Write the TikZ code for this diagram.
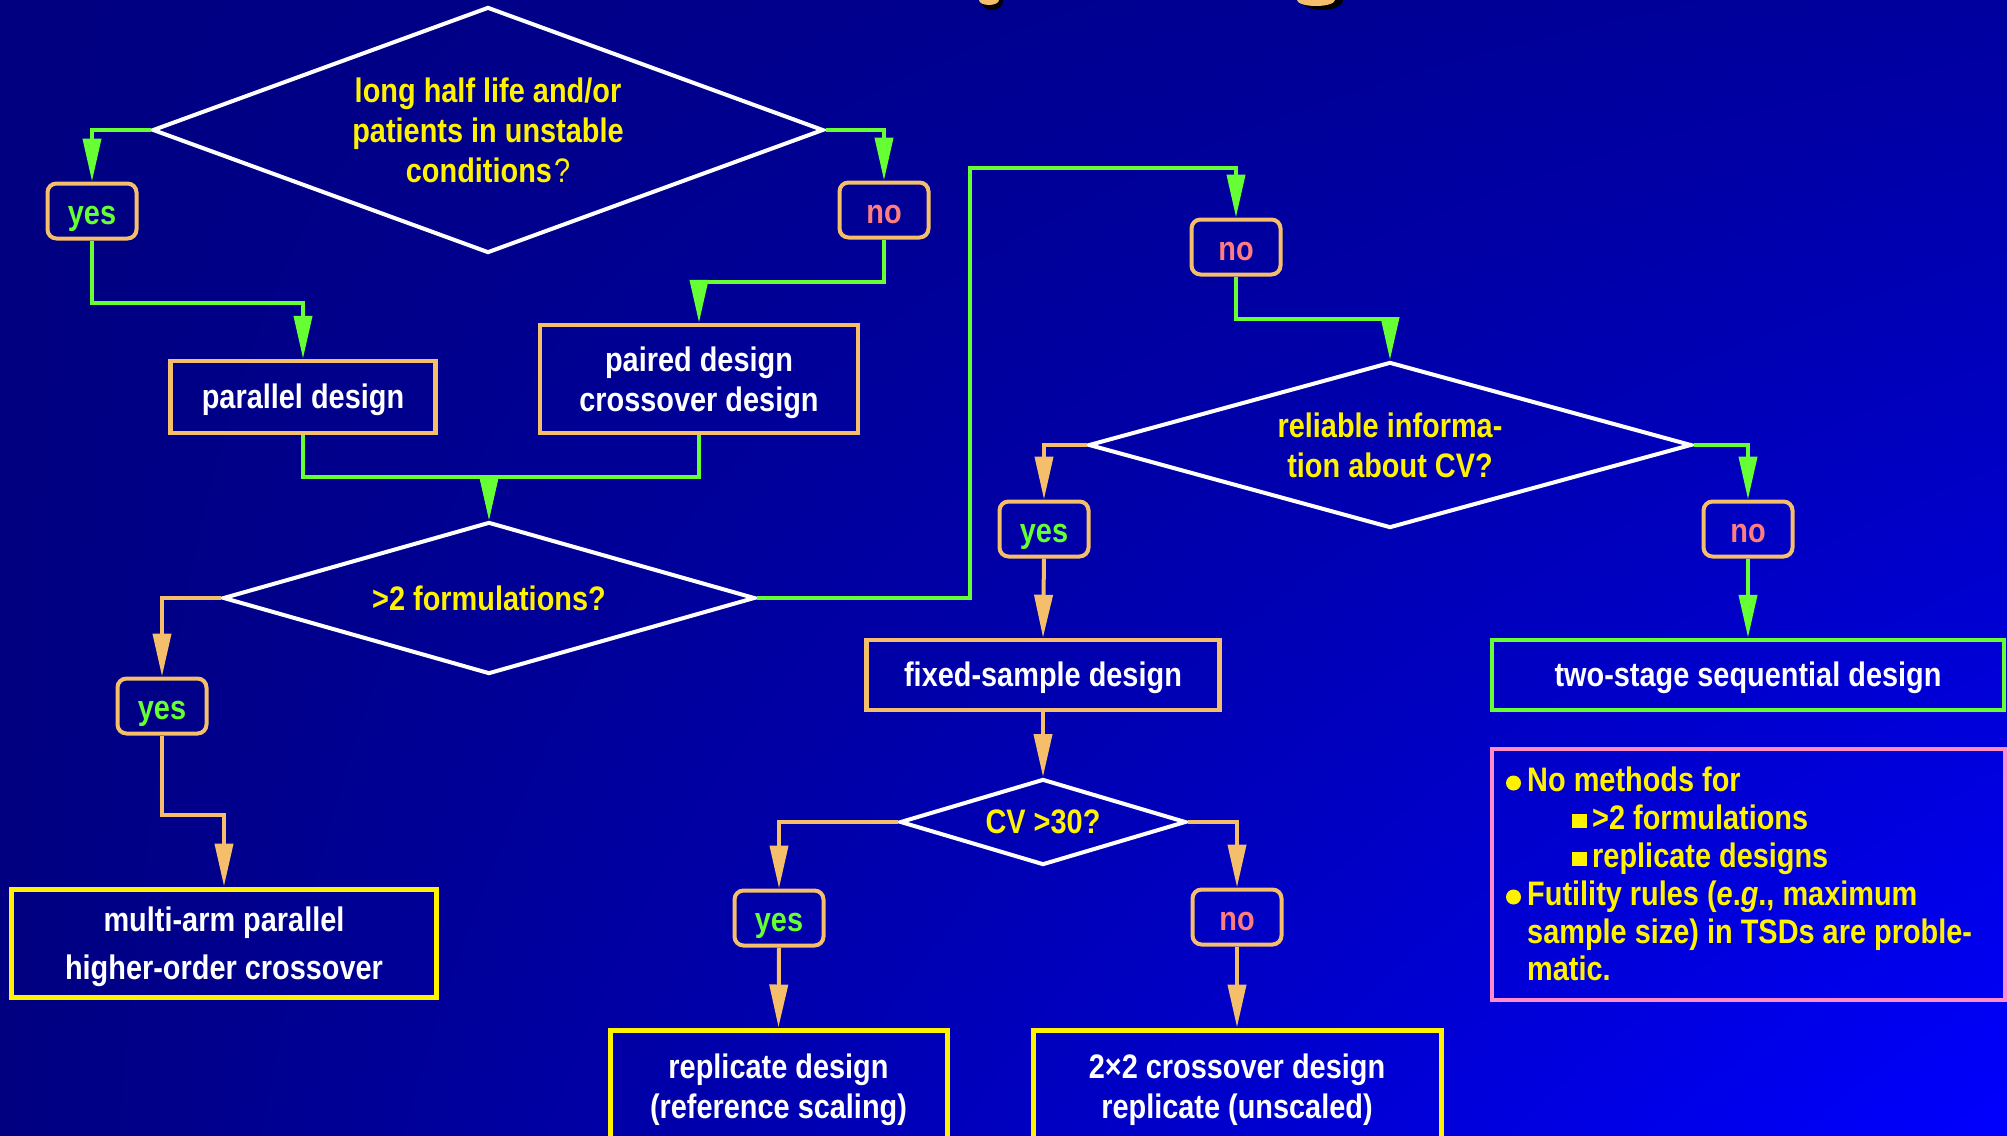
\documentclass[tikz,border=0pt]{standalone}
\usepackage{fontspec}
\setmainfont{Liberation Sans}[FakeStretch=0.85]
\usetikzlibrary{arrows.meta,shapes.geometric,shadings}
\definecolor{bgA}{RGB}{0,0,128}
\definecolor{bgB}{RGB}{0,0,158}
\definecolor{bgC}{RGB}{0,0,255}
\definecolor{lgreen}{RGB}{102,255,51}
\definecolor{lorange}{RGB}{245,190,106}
\definecolor{nored}{RGB}{255,125,125}
\definecolor{npink}{RGB}{255,140,200}
\begin{document}
\begin{tikzpicture}[x=1pt,y=-1pt,
  every node/.style={font=\fontsize{34}{40}\selectfont\bfseries},
  dia/.style={draw=white, line width=4pt, shape=diamond, inner sep=0pt},
  qtext/.style={text=yellow, align=center},
  yn/.style={draw=lorange, line width=4pt, rounded corners=9pt, minimum width=89pt, minimum height=55pt, inner sep=0pt, text height=27pt, text depth=0pt},
  yestxt/.style={yn, text=lgreen},
  notxt/.style={yn, text=nored},
  obox/.style={draw=lorange, line width=4.5pt, align=center, text=white, inner sep=0pt},
  ybox/.style={draw=yellow, line width=5pt, align=center, text=white, inner sep=0pt},
  gbox/.style={draw=lgreen, line width=4.5pt, align=center, text=white, inner sep=0pt},
  oneline/.style={text height=22pt, text depth=0pt},
  gline/.style={draw=lgreen, line width=4pt, -{Triangle[length=43pt,width=18pt]}},
  oline/.style={draw=lorange, line width=4pt, -{Triangle[length=43pt,width=18pt]}},
  ntext/.style={anchor=base west, text=yellow, inner sep=0pt},
  bullet/.style={fill=yellow}
]
\useasboundingbox (0,0) rectangle (2007,1135);
\clip (0,0) rectangle (2007,1135);
\shade[lower left=bgA, upper left=bgA, upper right=bgB, lower right=bgC] (0,0) rectangle (2007,1135);

% title fragments
\fill[black] (992,1) ellipse [x radius=11, y radius=9];
\fill[lorange] (989,0) ellipse [x radius=10, y radius=5];
\fill[black] (1322,0) ellipse [x radius=21, y radius=10];
\fill[lorange] (1316,0) ellipse [x radius=19, y radius=6];

% nodes
\node[dia, minimum width=671pt, minimum height=246pt,
  label={[qtext]center:long half life and/or\\patients in unstable\\conditions\kern2pt{\mdseries ?}}] (d1) at (488,130) {};
\node[yestxt] (yes1) at (92,211) {yes};
\node[notxt] (no1) at (884,210) {no};
\node[obox, oneline, minimum width=265pt, minimum height=72pt] (par) at (303,397) {parallel design};
\node[obox, minimum width=318pt, minimum height=108pt, text depth=0pt] (paired) at (699,379) {paired design\\crossover design};
\node[dia, minimum width=532pt, minimum height=152pt, label={[qtext]center:>2 formulations?}] (d2) at (489,598) {};
\node[yestxt] (yes2) at (162,706) {yes};
\node[ybox, minimum width=425pt, minimum height=108pt, text depth=0pt, font=\fontsize{34}{48}\selectfont\bfseries] (multi) at (224,943) {multi-arm parallel\\higher-order crossover};
\coordinate (k1) at (970,168);
\node[notxt] (no2) at (1236,247) {no};
\node[dia, minimum width=603pt, minimum height=166pt, label={[qtext]center:reliable informa-\\tion about CV?}] (d3) at (1390,445) {};
\node[yestxt] (yes3) at (1044,529) {yes};
\node[notxt] (no3) at (1748,529) {no};
\node[obox, oneline, minimum width=353pt, minimum height=70pt] (fixed) at (1043,675) {fixed-sample design};
\node[gbox, oneline, minimum width=512pt, minimum height=70pt] (two) at (1748,675) {two-stage sequential design};
\node[dia, minimum width=286pt, minimum height=86pt, label={[qtext]center:CV >30?}] (d4) at (1043,822) {};
\node[yestxt] (yes4) at (779,918) {yes};
\node[notxt] (no4) at (1237,917) {no};
\node[ybox, minimum width=337pt, minimum height=112pt, text depth=0pt] (rep) at (778.5,1086) {replicate design\\(reference scaling)};
\node[ybox, minimum width=408pt, minimum height=112pt, text depth=0pt] (cross) at (1237,1086) {2×2 crossover design\\replicate (unscaled)};

% note box
\node[draw=npink, line width=4pt, minimum width=513pt, minimum height=251pt, inner sep=0pt] (note) at (1748.5,874.5) {};
\fill[bullet] (1513.5,783) circle [radius=7.5pt];
\fill[bullet] (1572,814) rectangle (1587,828);
\fill[bullet] (1572,852) rectangle (1587,866);
\fill[bullet] (1513.5,897) circle [radius=7.5pt];
\node[ntext] (n1) at (1527,791) {No methods for};
\node[ntext] (n2) at (1592,829) {>2 formulations};
\node[ntext] (n3) at (1592,867) {replicate designs};
\node[ntext] (n4) at (1527,905) {Futility rules (\textit{e}.\textit{g}., maximum};
\node[ntext] (n5) at (1527,943) {sample size) in TSDs are proble-};
\node[ntext] (n6) at (1527,980) {matic.};

% connectors
\draw[gline] (d1.west) -| (yes1.north);
\draw[gline] (d1.east) -| (no1.north);
\draw[gline] (yes1.south) -- ++(0,62) -| (par.north);
\draw[gline] (no1.south) -- ++(0,42) -| (paired.north);
\draw[gline] (par.south) -- ++(0,42) -| (d2.north);
\draw[gline] (paired.south) -- ++(0,42) -| (d2.north);
\draw[oline] (d2.west) -| (yes2.north);
\draw[oline] (yes2.south) -- ++(0,79) -| (multi.north);
\draw[gline] (d2.east) -| (k1) -| (no2.north);
\draw[gline] (no2.south) -- ++(0,42) -| (d3.north);
\draw[oline] (d3.west) -| (yes3.north);
\draw[gline] (d3.east) -| (no3.north);
\draw[oline] (yes3.south) -- (fixed.north);
\draw[gline] (no3.south) -- (two.north);
\draw[oline] (fixed.south) -- (d4.north);
\draw[oline] (d4.west) -| (yes4.north);
\draw[oline] (d4.east) -| (no4.north);
\draw[oline] (yes4.south) -- (rep.north);
\draw[oline] (no4.south) -- (cross.north);
\end{tikzpicture}
\end{document}
